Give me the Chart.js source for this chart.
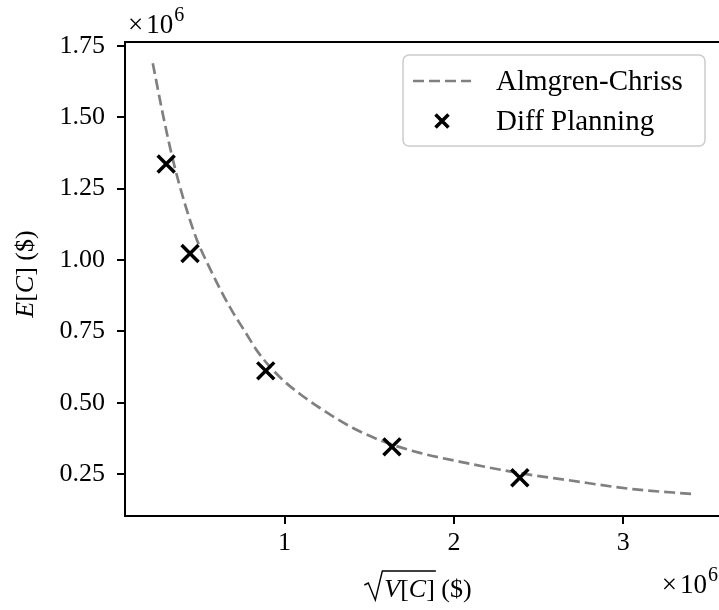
<!DOCTYPE html>
<html>
<head>
<meta charset="utf-8">
<script src="https://cdn.jsdelivr.net/npm/chart.js@4.4.1/dist/chart.umd.min.js"></script>
<style>
  html, body { margin: 0; padding: 0; background: #fff; overflow: hidden; }
  #wrap { width: 719px; height: 610px; }
</style>
</head>
<body>
<div id="wrap"><canvas id="myChart" width="719" height="610"></canvas></div>
<script>
// Almgren-Chriss frontier (x = sqrt(V[C]), y = E[C], both x 1e6)
const acStd = [0.222, 0.283, 0.342, 0.413, 0.484, 0.549, 0.619, 0.690, 0.767, 0.838, 0.914, 1.003, 1.091, 1.209, 1.404, 1.605, 1.799, 2.077, 2.389, 2.667, 3.056, 3.410];
const acMean = [1.689, 1.506, 1.348, 1.194, 1.068, 0.983, 0.899, 0.822, 0.749, 0.682, 0.626, 0.573, 0.531, 0.482, 0.412, 0.360, 0.325, 0.289, 0.254, 0.230, 0.198, 0.181];

// Diff Planning results
const dpStd = [0.301, 0.442, 0.889, 1.634, 2.389];
const dpMean = [1.336, 1.023, 0.612, 0.346, 0.238];

const xTicks = [1, 2, 3];
const yTicks = [0.25, 0.50, 0.75, 1.00, 1.25, 1.50, 1.75];

const seriesNames = ['Almgren-Chriss', 'Diff Planning'];

Chart.defaults.font.family = "'Liberation Serif', serif";
Chart.defaults.color = '#000';

const serif = "'Liberation Serif', serif";

// draws the frame, legend, axis labels and the x10^6 offset texts
const decorations = {
    id: 'decorations',
    afterDraw(chart) {
        const c = chart.ctx;
        const a = chart.chartArea;
        c.save();

        // frame: left, top, bottom (right spine is cut off by the figure edge)
        c.strokeStyle = '#000';
        c.lineWidth = 2;
        c.beginPath();
        c.moveTo(a.right + 2, a.top);
        c.lineTo(a.left, a.top);
        c.lineTo(a.left, a.bottom);
        c.lineTo(a.right + 2, a.bottom);
        c.stroke();

        // legend
        const bw = 302, bh = 91;
        const bx = a.right - 14 - bw, by = a.top + 13;
        c.beginPath();
        c.roundRect(bx, by, bw, bh, 6);
        c.fillStyle = 'rgba(255,255,255,0.8)';
        c.fill();
        c.strokeStyle = '#cccccc';
        c.lineWidth = 1.5;
        c.stroke();

        const ds0 = chart.data.datasets[0];
        const row1 = by + 26, row2 = by + 66;
        c.strokeStyle = ds0.borderColor;
        c.lineWidth = ds0.borderWidth;
        c.setLineDash(ds0.borderDash);
        c.beginPath();
        c.moveTo(bx + 10, row1);
        c.lineTo(bx + 68, row1);
        c.stroke();
        c.setLineDash([]);

        c.strokeStyle = '#000';
        c.lineWidth = 3.5;
        const mx = bx + 39, m = 6.5;
        c.beginPath();
        c.moveTo(mx - m, row2 - m); c.lineTo(mx + m, row2 + m);
        c.moveTo(mx - m, row2 + m); c.lineTo(mx + m, row2 - m);
        c.stroke();

        c.fillStyle = '#000';
        c.font = '29px ' + serif;
        c.textBaseline = 'middle';
        c.textAlign = 'left';
        c.fillText(seriesNames[0], bx + 93, row1 + 1);
        c.fillText(seriesNames[1], bx + 93, row2 + 1);

        // offset texts
        const offsetWidth = () => {
            c.font = '27px ' + serif;
            const w1 = c.measureText('\u00d7').width + 3 + c.measureText('10').width;
            c.font = '20px ' + serif;
            return w1 + 1 + c.measureText('6').width;
        };
        const offset = (x, y) => {
            c.textBaseline = 'alphabetic';
            c.textAlign = 'left';
            c.font = '27px ' + serif;
            c.fillText('\u00d7', x, y);
            const wx = c.measureText('\u00d7').width + 3;
            c.fillText('10', x + wx, y);
            const w = wx + c.measureText('10').width;
            c.font = '20px ' + serif;
            c.fillText('6', x + w + 1, y - 12);
        };
        offset(a.left + 3, a.top - 9);
        offset(chart.width - 1 - offsetWidth(), 593);

        // x label: sqrt(V[C]) ($)
        const mixed = (parts, x, y) => {
            let cx = x;
            parts.forEach(p => {
                c.font = (p[1] ? 'italic ' : '') + '26px ' + serif;
                c.fillText(p[0], cx, y);
                cx += c.measureText(p[0]).width;
            });
            return cx;
        };
        const measure = (parts) => parts.reduce((s, p) => {
            c.font = (p[1] ? 'italic ' : '') + '26px ' + serif;
            return s + c.measureText(p[0]).width;
        }, 0);

        const inner = [['V', true], ['[', false], ['C', true], [']', false]];
        const tail = [[' ($)', false]];
        const rad = 20;
        const total = rad + measure(inner) + measure(tail);
        let sx = 418 - total / 2;
        const base = 597;
        c.textBaseline = 'alphabetic';
        c.strokeStyle = '#000';
        c.lineWidth = 1.4;
        const innerEnd = sx + rad + measure(inner);
        c.beginPath();
        c.moveTo(sx, base - 12);
        c.lineTo(sx + 4, base - 14);
        c.lineTo(sx + 11, base + 3);
        c.lineTo(sx + 18, base - 26);
        c.lineTo(innerEnd + 1, base - 26);
        c.stroke();
        mixed(inner, sx + rad, base);
        mixed(tail, innerEnd, base);

        // y label: E[C] ($)
        const ylab = [['E', true], ['[', false], ['C', true], [']', false], [' ($)', false]];
        c.translate(33, (a.top + a.bottom) / 2 - 5);
        c.rotate(-Math.PI / 2);
        mixed(ylab, -measure(ylab) / 2, 0);

        c.restore();
    }
};

const ctx = document.getElementById('myChart').getContext('2d');

const myChart = new Chart(ctx, {
    type: 'scatter',
    data: {
        datasets: [
            {
                label: seriesNames[0],
                data: acStd.map((x, i) => ({ x: x, y: acMean[i] })),
                showLine: true,
                borderColor: '#808080',
                borderWidth: 2.7,
                borderDash: [11, 5],
                pointRadius: 0,
                cubicInterpolationMode: 'monotone',
                order: 2
            },
            {
                label: seriesNames[1],
                data: dpStd.map((x, i) => ({ x: x, y: dpMean[i] })),
                pointStyle: 'crossRot',
                pointRadius: 12,
                pointBorderWidth: 3.5,
                borderColor: '#000',
                backgroundColor: '#000',
                order: 1
            }
        ]
    },
    options: {
        responsive: false,
        animation: false,
        layout: { autoPadding: false, padding: { top: 42, right: 0, left: 0, bottom: 0 } },
        plugins: {
            legend: { display: false },
            tooltip: { enabled: false }
        },
        scales: {
            x: {
                type: 'linear',
                min: 0.058,
                max: 3.565,
                afterBuildTicks: (scale) => { scale.ticks = xTicks.map(v => ({ value: v })); },
                afterFit: (scale) => { scale.height = 94; },
                ticks: {
                    font: { size: 26 },
                    padding: 4,
                    maxRotation: 0,
                    callback: (v) => String(v)
                },
                grid: { drawOnChartArea: false, drawTicks: true, tickLength: 8, color: '#000', lineWidth: 2 },
                border: { display: false }
            },
            y: {
                type: 'linear',
                min: 0.104,
                max: 1.763,
                afterBuildTicks: (scale) => { scale.ticks = yTicks.map(v => ({ value: v })); },
                afterFit: (scale) => { scale.width = 125; },
                ticks: {
                    font: { size: 26 },
                    padding: 12,
                    callback: (v) => v.toFixed(2)
                },
                grid: { drawOnChartArea: false, drawTicks: true, tickLength: 8, color: '#000', lineWidth: 2 },
                border: { display: false }
            }
        }
    },
    plugins: [decorations]
});
</script>
</body>
</html>
